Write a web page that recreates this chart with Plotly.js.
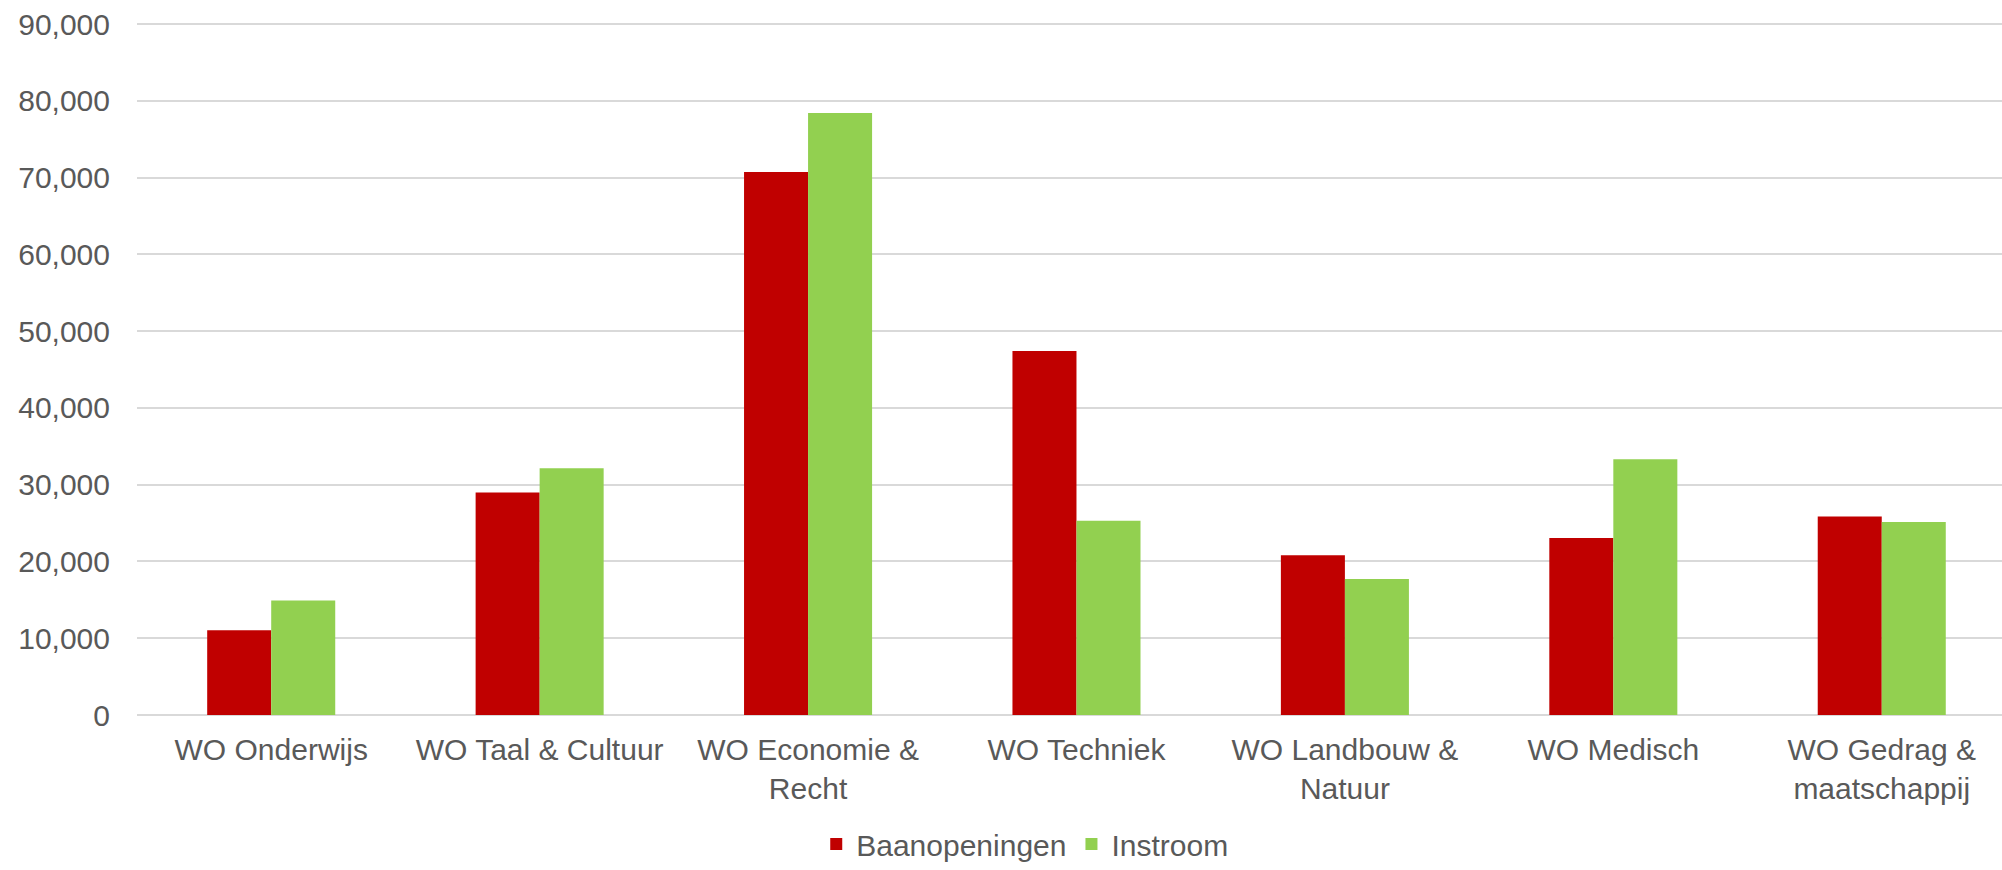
<!DOCTYPE html>
<html>
<head>
<meta charset="utf-8">
<script src="https://cdn.plot.ly/plotly-3.0.1.min.js"></script>
<style>html,body{margin:0;padding:0;background:#fff;}#chart{width:2002px;height:870px;}</style>
</head>
<body>
<div id="chart"></div>
<script>
const categories = [
  "WO Onderwijs",
  "WO Taal & Cultuur",
  "WO Economie &<br>Recht",
  "WO Techniek",
  "WO Landbouw &<br>Natuur",
  "WO Medisch",
  "WO Gedrag &<br>maatschappij"
];
const baanopeningen = [11050, 28970, 70740, 47400, 20810, 23050, 25870];
const instroom = [14900, 32150, 78400, 25290, 17700, 33310, 25140];
const yTickVals = [0, 10000, 20000, 30000, 40000, 50000, 60000, 70000, 80000, 90000];
const yTickText = ["0", "10,000", "20,000", "30,000", "40,000", "50,000", "60,000", "70,000", "80,000", "90,000"];

const font = {family: "Liberation Sans, Arial, sans-serif", size: 30, color: "#595959"};

const traces = [
  {type: "bar", name: "Baanopeningen", x: categories, y: baanopeningen, marker: {color: "#C00000", line: {width: 0}}},
  {type: "bar", name: "Instroom", x: categories, y: instroom, marker: {color: "#92D050", line: {width: 0}}}
];

const layout = {
  width: 2002, height: 870,
  margin: {l: 137, r: 0, t: 21, b: 155, pad: 0, autoexpand: false},
  paper_bgcolor: "#ffffff", plot_bgcolor: "#ffffff",
  font: font,
  barmode: "group", bargap: 0.523, bargroupgap: 0,
  showlegend: true,
  legend: {orientation: "h", x: 0.476, xanchor: "center", y: -0.2233, yanchor: "bottom", font: font,
           traceorder: "normal", itemwidth: 30, bgcolor: "rgba(0,0,0,0)"},
  xaxis: {
    type: "category", range: [-0.5, 6.448],
    showgrid: false, zeroline: false, showline: false, ticks: "",
    tickfont: font, automargin: false, tickangle: 0, ticklabelstandoff: 14
  },
  yaxis: {
    range: [0, 90391], tickvals: yTickVals, ticktext: yTickText,
    showgrid: true, gridcolor: "#d9d9d9", gridwidth: 2,
    zeroline: true, zerolinecolor: "#d9d9d9", zerolinewidth: 2,
    showline: false, ticks: "", tickfont: font, automargin: false, ticklabelstandoff: 26
  }
};

Plotly.newPlot("chart", traces, layout, {displayModeBar: false, staticPlot: true});
</script>
</body>
</html>
